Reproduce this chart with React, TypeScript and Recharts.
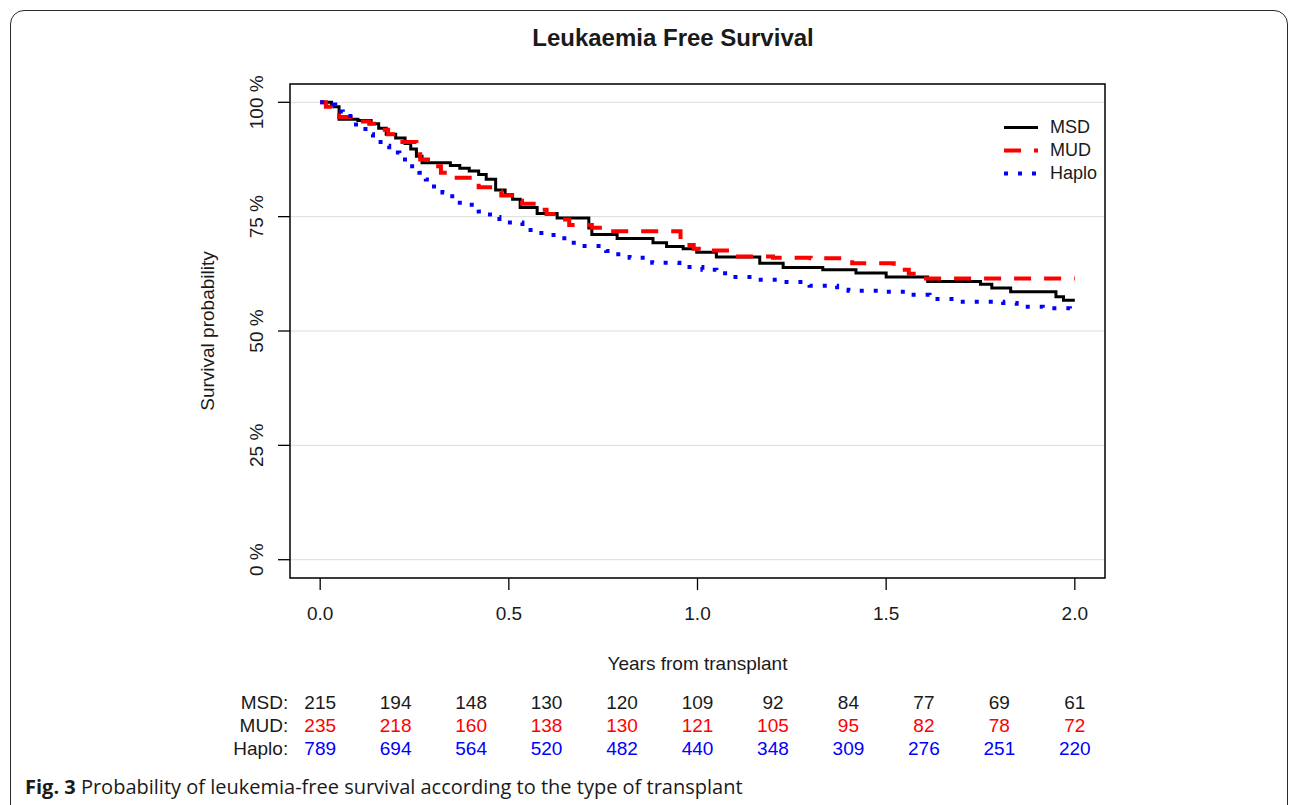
import React from 'react';
import { LineChart, Line, XAxis, YAxis, CartesianGrid, ReferenceArea, Legend } from 'recharts';

// Kaplan-Meier steps (years, % surviving)
const msdTimes = [0, 0.03, 0.05, 0.1, 0.135, 0.155, 0.175, 0.2, 0.225, 0.24, 0.255, 0.27, 0.345, 0.37, 0.395, 0.42, 0.44, 0.465, 0.49, 0.51, 0.53, 0.575, 0.628, 0.712, 0.72, 0.787, 0.882, 0.918, 0.962, 0.998, 1.05, 1.165, 1.227, 1.332, 1.42, 1.5, 1.61, 1.75, 1.78, 1.83, 1.95, 1.97, 2.0];
const msdSurv = [100, 99.0, 96.3, 96.0, 95.3, 94.3, 93.0, 92.2, 91.0, 89.8, 88.2, 86.8, 86.2, 85.6, 85.0, 84.2, 83.2, 80.8, 79.8, 78.8, 77.0, 75.7, 74.7, 72.5, 71.1, 70.2, 69.3, 68.5, 68.0, 67.2, 66.2, 64.8, 63.9, 63.4, 62.7, 61.8, 60.8, 60.2, 59.4, 58.6, 57.5, 56.7, 56.7];

const mudTimes = [0, 0.015, 0.03, 0.05, 0.1, 0.13, 0.16, 0.18, 0.21, 0.255, 0.265, 0.3, 0.32, 0.35, 0.41, 0.42, 0.46, 0.48, 0.52, 0.535, 0.58, 0.6, 0.64, 0.66, 0.72, 0.765, 0.955, 0.97, 0.99, 1.03, 1.09, 1.2, 1.3, 1.41, 1.52, 1.56, 1.59, 2.0];
const mudSurv = [100, 99.0, 97.5, 96.8, 95.8, 95.3, 94.0, 93.0, 91.3, 89.5, 87.5, 86.0, 84.6, 83.5, 82.5, 81.4, 80.5, 79.6, 78.5, 77.8, 76.5, 75.6, 74.4, 73.2, 72.6, 71.8, 70.0, 68.8, 68.0, 67.6, 66.3, 66.0, 65.9, 64.8, 63.4, 62.5, 61.5, 61.5];

const haploTimes = [0, 0.02, 0.04, 0.06, 0.08, 0.095, 0.12, 0.14, 0.16, 0.183, 0.21, 0.236, 0.263, 0.28, 0.295, 0.324, 0.35, 0.37, 0.42, 0.45, 0.475, 0.536, 0.58, 0.607, 0.634, 0.66, 0.695, 0.758, 0.79, 0.82, 0.88, 0.952, 1.013, 1.05, 1.093, 1.156, 1.236, 1.297, 1.37, 1.4, 1.48, 1.55, 1.615, 1.695, 1.81, 1.846, 1.915, 1.987, 2.0];
const haploSurv = [100, 99.5, 98.0, 97.0, 95.6, 94.7, 93.0, 91.9, 90.5, 89.0, 87.5, 86.0, 84.6, 83.1, 81.6, 80.3, 79.0, 77.6, 76.1, 74.9, 73.7, 72.1, 71.4, 71.0, 70.3, 69.3, 68.6, 67.5, 66.8, 66.0, 64.9, 64.0, 63.4, 62.6, 61.8, 61.2, 60.7, 59.9, 59.0, 58.8, 58.6, 57.9, 57.0, 56.4, 56.1, 55.3, 55.0, 54.4, 54.4];

const xTicks = [0, 0.5, 1, 1.5, 2];
const yTicks = [0, 25, 50, 75, 100];

// numbers at risk table
const riskTimes = [0, 0.2, 0.4, 0.6, 0.8, 1.0, 1.2, 1.4, 1.6, 1.8, 2.0];
const msdAtRisk = [215, 194, 148, 130, 120, 109, 92, 84, 77, 69, 61];
const mudAtRisk = [235, 218, 160, 138, 130, 121, 105, 95, 82, 78, 72];
const haploAtRisk = [789, 694, 564, 520, 482, 440, 348, 309, 276, 251, 220];

const seriesNames = ['MSD', 'MUD', 'Haplo'];
const seriesColors = ['#000000', '#ff0000', '#0000ff'];
const seriesDashes = [undefined, '17 13', '4 10'];
const seriesWidths = [3, 4, 4];

const toPoints = (times: number[], surv: number[]) => times.map((t, i) => ({ t, s: surv[i] }));

const FONT = '"Liberation Sans", Arial, sans-serif';
const TEXT = '#1a1a1a';

const YTick = (props: any) => {
  const { x, y, payload } = props;
  return (
    <text x={x} y={y} transform={`rotate(-90 ${x} ${y})`} textAnchor="middle" fontSize={19} fill={TEXT}>
      {`${payload.value} %`}
    </text>
  );
};

const riskTick = (label: string, counts: number[], color: string) => (props: any) => {
  const { x, y, payload, index } = props;
  let i = riskTimes.findIndex((t) => Math.abs(t - Number(payload?.value)) < 1e-6);
  if (i < 0) i = index;
  return (
    <g>
      {i === 0 && (
        <text x={x - 32} y={y} dy={19} textAnchor="end" fontSize={19} fill={TEXT}>
          {label}
        </text>
      )}
      <text x={x} y={y} dy={19} textAnchor="middle" fontSize={19} fill={color}>
        {counts[i]}
      </text>
    </g>
  );
};

const renderLegend = () => (
  <div style={{ fontFamily: FONT, fontSize: 18, color: TEXT }}>
    {seriesNames.map((name, i) => (
      <div key={name} style={{ display: 'flex', alignItems: 'center', height: 23 }}>
        <svg width={50} height={23}>
          <line x1={4} x2={38} y1={11.5} y2={11.5} stroke={seriesColors[i]} strokeWidth={seriesWidths[i]} strokeDasharray={seriesDashes[i]} />
        </svg>
        <span>{name}</span>
      </div>
    ))}
  </div>
);

export default function App() {
  const series = [toPoints(msdTimes, msdSurv), toPoints(mudTimes, mudSurv), toPoints(haploTimes, haploSurv)];
  // ids sort in row order (axes below the plot are stacked by id)
  const riskRows = [
    { id: 'r1', label: 'MSD:', counts: msdAtRisk, color: TEXT },
    { id: 'r2', label: 'MUD:', counts: mudAtRisk, color: '#ff0000' },
    { id: 'r3', label: 'Haplo:', counts: haploAtRisk, color: '#0000ff' },
  ];

  return (
    <div style={{ position: 'absolute', left: 0, top: 0, width: 1292, height: 805, overflow: 'hidden', background: '#fff', fontFamily: FONT }}>
      <div
        style={{
          position: 'absolute', left: 10, top: 10, width: 1276, height: 830,
          border: '1.5px solid #2a2a2a', borderRadius: 14,
        }}
      />
      <div style={{ position: 'absolute', left: 673, top: 26, transform: 'translateX(-50%)', fontSize: 24, lineHeight: 1, fontWeight: 'bold', color: TEXT, whiteSpace: 'nowrap' }}>
        Leukaemia Free Survival
      </div>
      <LineChart width={1292} height={805} margin={{ top: 84, right: 187, bottom: 46, left: 190 }} style={{ fontFamily: FONT }}>
        <CartesianGrid horizontal vertical={false} stroke="#dcdcdc" />
        <XAxis
          dataKey="t"
          type="number"
          domain={[-0.08, 2.08]}
          allowDataOverflow
          ticks={xTicks}
          interval={0}
          tickFormatter={(v: number) => v.toFixed(1)}
          height={112}
          axisLine={false}
          tickLine={{ stroke: '#000', strokeWidth: 1.3 }}
          tickSize={12}
          tickMargin={17}
          tick={{ fill: TEXT, fontSize: 19 }}
          label={{ value: 'Years from transplant', position: 'insideBottom', offset: 20, fill: TEXT, fontSize: 19 }}
        />
        {riskRows.map((r) => (
          <XAxis
            key={r.id}
            xAxisId={r.id}
            dataKey="t"
            type="number"
            domain={[-0.08, 2.08]}
            allowDataOverflow
            ticks={riskTimes}
            interval={0}
            height={23}
            axisLine={false}
            tickLine={false}
            tickSize={0}
            tickMargin={0}
            tick={riskTick(r.label, r.counts, r.color)}
          />
        ))}
        <YAxis
          type="number"
          domain={[-4, 104]}
          allowDataOverflow
          ticks={yTicks}
          interval={0}
          width={100}
          axisLine={false}
          tickLine={{ stroke: '#000', strokeWidth: 1.3 }}
          tickSize={12}
          tickMargin={15}
          tick={<YTick />}
          label={{ value: 'Survival probability', angle: -90, position: 'insideLeft', offset: 17, fill: TEXT, fontSize: 19, style: { textAnchor: 'middle' } }}
        />
        <ReferenceArea x1={-0.08} x2={2.08} y1={-4} y2={104} fill="none" stroke="#000" strokeWidth={1.5} ifOverflow="visible" />
        {/* invisible carriers so each at-risk axis has a series bound to it */}
        {riskRows.map((r) => (
          <Line
            key={r.id + 'carrier'}
            xAxisId={r.id}
            data={riskTimes.map((t) => ({ t, s: 50 }))}
            dataKey="s"
            stroke="none"
            dot={false}
            activeDot={false}
            legendType="none"
            isAnimationActive={false}
          />
        ))}
        {seriesNames.map((name, i) => (
          <Line
            key={name}
            name={name}
            data={series[i]}
            dataKey="s"
            type="stepAfter"
            stroke={seriesColors[i]}
            strokeWidth={seriesWidths[i]}
            strokeDasharray={seriesDashes[i]}
            dot={false}
            activeDot={false}
            isAnimationActive={false}
          />
        ))}
        <Legend
          layout="vertical"
          align="center"
          verticalAlign="middle"
          content={renderLegend}
          wrapperStyle={{ left: 1000, top: 116, width: 120 }}
        />
      </LineChart>
      <div style={{ position: 'absolute', left: 25, top: 777, fontFamily: '"Open Sans", sans-serif', fontSize: 20, lineHeight: 1, color: TEXT, whiteSpace: 'nowrap' }}>
        <b>Fig. 3</b> Probability of leukemia-free survival according to the type of transplant
      </div>
    </div>
  );
}
